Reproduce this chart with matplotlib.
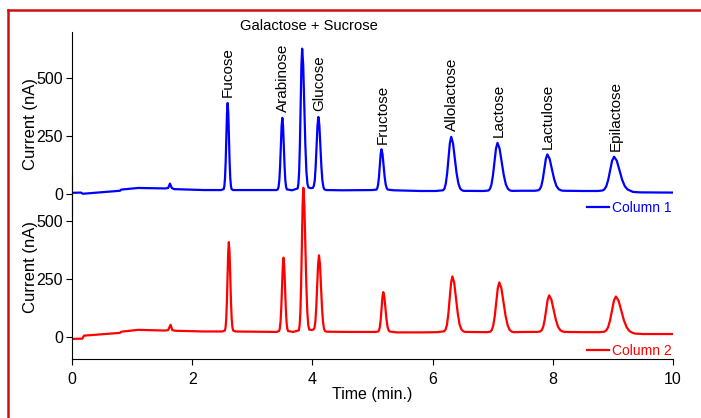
import matplotlib.pyplot as plt
from matplotlib.lines import Line2D

plt.rcParams['font.family'] = ['Liberation Sans', 'DejaVu Sans']

# column 1 trace (time in min., current in nA)
col1_time = [0.00, 0.15, 0.18, 0.80, 0.82, 1.10, 1.55, 1.60, 1.63, 1.66, 1.70, 2.20, 2.48,
             2.524, 2.535, 2.546, 2.557, 2.568, 2.579, 2.59, 2.601, 2.612, 2.623, 2.634, 2.645, 2.656, 2.68,
             3.00, 3.40, 3.425, 3.4375, 3.45, 3.4625, 3.475, 3.4875, 3.50, 3.5125, 3.525, 3.5375, 3.55, 3.5625, 3.575,
             3.66, 3.755, 3.7675, 3.78, 3.7925, 3.805, 3.8175, 3.83, 3.8475, 3.865, 3.8825, 3.90, 3.9175, 3.935,
             3.975, 4.01, 4.025, 4.04, 4.055, 4.07, 4.085, 4.10, 4.1165, 4.133, 4.1495, 4.166, 4.1825, 4.199, 4.23,
             4.50, 5.00, 5.066, 5.08, 5.094, 5.108, 5.122, 5.136, 5.15, 5.1675, 5.185, 5.2025, 5.22, 5.2375, 5.255,
             5.35, 5.80, 6.05, 6.175, 6.1975, 6.22, 6.2425, 6.265, 6.2875, 6.31, 6.34, 6.37, 6.40, 6.43, 6.46, 6.49, 6.52,
             6.70, 6.85, 6.93, 6.955, 6.98, 7.005, 7.03, 7.055, 7.08, 7.115, 7.15, 7.185, 7.22, 7.255, 7.29, 7.325,
             7.50, 7.70, 7.76, 7.785, 7.81, 7.835, 7.86, 7.885, 7.91, 7.9475, 7.985, 8.0225, 8.06, 8.0975, 8.135, 8.17,
             8.50, 8.75, 8.825, 8.8575, 8.89, 8.9225, 8.955, 8.9875, 9.02, 9.065, 9.11, 9.155, 9.20, 9.245, 9.29, 9.335,
             9.45, 10.00]
col1_current = [5, 6, 1, 14, 19, 26, 24, 26, 45, 26, 21, 17, 17,
                21, 34, 68, 137, 246, 348, 393, 348, 246, 137, 68, 34, 21, 17,
                17, 17, 20, 31, 59, 118, 206, 292, 329, 292, 206, 118, 59, 31, 20,
                16, 24, 44, 99, 216, 388, 556, 628, 556, 388, 216, 99, 44, 28,
                25, 27, 36, 60, 120, 209, 296, 333, 296, 209, 120, 60, 31, 20, 17,
                16, 17, 19, 25, 41, 74, 124, 172, 193, 172, 124, 74, 41, 25, 19,
                16, 13, 13, 16, 23, 45, 89, 155, 219, 247, 219, 155, 89, 45, 23, 16, 13.5,
                13, 13, 15, 22, 41, 81, 139, 196, 221, 196, 139, 81, 41, 22, 15, 13.5,
                14, 14, 16, 21, 35, 65, 109, 152, 171, 152, 109, 65, 35, 21, 16, 14,
                13, 13, 15, 19.5, 33, 61, 103, 144, 161, 144, 103, 61, 33, 19.5, 14, 9,
                7, 6]

# column 2 trace
col2_time = [0.00, 0.17, 0.20, 0.80, 0.82, 1.10, 1.55, 1.60, 1.64, 1.67, 1.72, 2.20, 2.50,
             2.544, 2.555, 2.566, 2.577, 2.588, 2.599, 2.61, 2.622, 2.634, 2.646, 2.658, 2.67, 2.682, 2.72,
             3.00, 3.40, 3.445, 3.4575, 3.47, 3.4825, 3.495, 3.5075, 3.52, 3.5325, 3.545, 3.5575, 3.57, 3.5825, 3.595,
             3.68, 3.775, 3.7875, 3.80, 3.8125, 3.825, 3.8375, 3.85, 3.8665, 3.883, 3.8995, 3.916, 3.9325, 3.949,
             3.99, 4.02, 4.035, 4.05, 4.065, 4.08, 4.095, 4.11, 4.1265, 4.143, 4.1595, 4.176, 4.1925, 4.209, 4.24,
             4.60, 5.05, 5.096, 5.11, 5.124, 5.138, 5.152, 5.166, 5.18, 5.1975, 5.215, 5.2325, 5.25, 5.2675, 5.285,
             5.40, 5.80, 6.08, 6.195, 6.2175, 6.24, 6.2625, 6.285, 6.3075, 6.33, 6.36, 6.39, 6.42, 6.45, 6.48, 6.51, 6.54,
             6.90, 6.96, 6.985, 7.01, 7.035, 7.06, 7.085, 7.11, 7.145, 7.18, 7.215, 7.25, 7.285, 7.32, 7.355,
             7.55, 7.73, 7.79, 7.815, 7.84, 7.865, 7.89, 7.915, 7.94, 7.9775, 8.015, 8.0525, 8.09, 8.1275, 8.165, 8.20,
             8.50, 8.78, 8.855, 8.8875, 8.92, 8.9525, 8.985, 9.0175, 9.05, 9.095, 9.14, 9.185, 9.23, 9.275, 9.32, 9.365,
             9.50, 10.00]
col2_current = [-8, -7, 6, 18, 23, 31, 28, 30, 53, 30, 27, 24, 24,
                28, 41, 76, 149, 258, 364, 410, 364, 258, 149, 76, 41, 28, 24,
                23, 22, 26, 36, 65, 126, 217, 305, 343, 305, 217, 126, 65, 36, 26,
                22, 29, 49, 106, 224, 400, 571, 645, 571, 400, 224, 106, 49, 32,
                30, 33, 40, 67, 130, 223, 314, 353, 314, 223, 130, 67, 37, 26, 23,
                22, 22, 24, 30, 45, 78, 126, 174, 194, 174, 126, 78, 45, 30, 24,
                20, 20, 21, 25, 33, 54, 100, 168, 234, 262, 234, 168, 100, 54, 33, 25, 22,
                21, 23, 30, 50, 91, 151, 211, 236, 211, 151, 91, 50, 30, 23, 21,
                22, 22, 24, 29, 43, 73, 118, 161, 180, 161, 118, 73, 43, 29, 24, 22,
                21, 21, 23, 28, 42, 71, 114, 157, 175, 157, 114, 71, 42, 26, 19, 15,
                13, 13]

peak_names = ['Fucose', 'Arabinose', 'Glucose', 'Fructose', 'Allolactose',
              'Lactose', 'Lactulose', 'Epilactose']
peak_times = [2.60, 3.51, 4.11, 5.17, 6.32, 7.10, 7.91, 9.05]
peak_heights = [393, 329, 333, 193, 247, 221, 171, 161]

fig = plt.figure(figsize=(7.01, 4.18), dpi=100)
ax2 = fig.add_axes([0.1027, 0.1411, 0.8573, 0.4402])
ax1 = fig.add_axes([0.1027, 0.4833, 0.8573, 0.4402], sharex=ax2)
ax1.patch.set_visible(False)

ax1.plot(col1_time, col1_current, color='#0000ff', lw=1.6, label='Column 1')
ax2.plot(col2_time, col2_current, color='#ff0000', lw=1.6, label='Column 2')

for ax in (ax1, ax2):
    ax.set_ylim(-95, 700)
    ax.set_yticks([0, 250, 500])
    ax.spines['top'].set_visible(False)
    ax.spines['right'].set_visible(False)
    ax.tick_params(axis='both', direction='out', length=4.5, labelsize=11.5, pad=2)
    ax.set_ylabel('Current (nA)', fontsize=12, labelpad=-1)
    ax.legend(loc='lower right', bbox_to_anchor=(1.0, 0.0), frameon=False, fontsize=10,
              handlelength=1.6, handletextpad=0.2, borderpad=0, borderaxespad=0.1,
              labelcolor='linecolor')

ax1.spines['bottom'].set_visible(False)
ax1.tick_params(axis='x', bottom=False, labelbottom=False)
ax2.set_xlim(0, 10)
ax2.set_xticks([0, 2, 4, 6, 8, 10])
ax2.tick_params(axis='x', pad=5)
ax2.set_xlabel('Time (min.)', fontsize=11.5, labelpad=0)

for name, t, h in zip(peak_names, peak_times, peak_heights):
    ax1.annotate(name, (t, h), xytext=(0, 4), textcoords='offset points',
                 rotation=90, ha='center', va='bottom', fontsize=11)
ax1.annotate('Galactose + Sucrose', (3.95, 700), xytext=(0, 4), textcoords='offset points',
             ha='center', va='center', fontsize=10.6)

# red frame around the figure
fig.add_artist(Line2D([0.0107, 1.0], [0.9749, 0.9749], color='#d01010', lw=1.8))
fig.add_artist(Line2D([0.0107, 0.0107], [0.0, 0.9749], color='#d01010', lw=1.8))

fig.savefig('out.png', dpi=100)
